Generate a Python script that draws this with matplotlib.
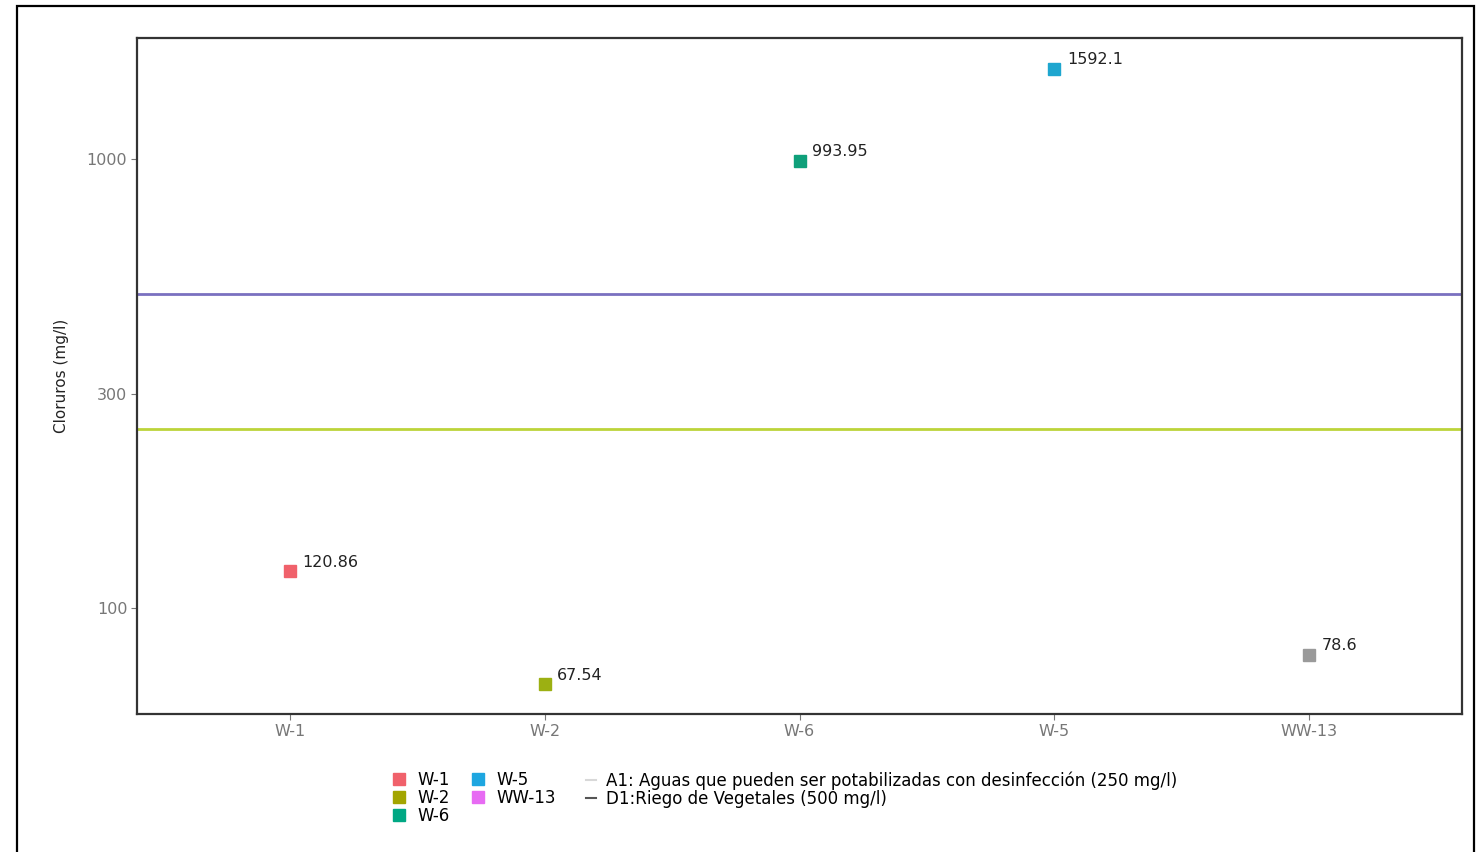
import matplotlib.pyplot as plt
from matplotlib.lines import Line2D
from matplotlib.patches import Rectangle
from matplotlib.ticker import FixedLocator, NullLocator

plt.rcParams['font.family'] = ['DejaVu Sans']

# data
sitios = ['W-1', 'W-2', 'W-6', 'W-5', 'WW-13']
cloruros = [120.86, 67.54, 993.95, 1592.1, 78.6]
etiquetas = ['120.86', '67.54', '993.95', '1592.1', '78.6']
colores_puntos = ['#f0616b', '#9cb012', '#0fa07a', '#1ea6cf', '#9a9a9a']
colores_leyenda = ['#f0616b', '#a3a500', '#00a884', '#1ea6e0', '#e76bf3']
limite_a1 = 250
limite_d1 = 500
y_ticks = [100, 300, 1000]

fig = plt.figure(figsize=(14.76, 8.52), dpi=100)
ax = fig.add_axes([137 / 1476, 1 - 714 / 852, (1462 - 137) / 1476, (714 - 38) / 852])

# outer frame
fig.patches.append(Rectangle((17 / 1476, -0.05), (1474 - 17) / 1476, 1.05 - 6 / 852,
                             transform=fig.transFigure, fill=False, edgecolor='black',
                             linewidth=1.6, zorder=0))

ax.axhline(limite_d1, color='#7a70c0', linewidth=2.0, zorder=1)
ax.axhline(limite_a1, color='#bcd43a', linewidth=2.0, zorder=1)

xs = list(range(len(sitios)))
for x, y, c, lab in zip(xs, cloruros, colores_puntos, etiquetas):
    ax.plot(x, y, marker='s', markersize=9, color=c, linestyle='none', zorder=3)
    ax.annotate(lab, (x, y), xytext=(9, 1), textcoords='offset points',
                fontsize=11.5, color='#222222', va='bottom', ha='left')

ax.set_yscale('log')
ax.set_ylim(58.0, 1865)
ax.set_xlim(-0.6, len(sitios) - 0.4)
ax.yaxis.set_major_locator(FixedLocator(y_ticks))
ax.yaxis.set_minor_locator(NullLocator())
ax.set_yticklabels([str(t) for t in y_ticks])
ax.set_xticks(xs)
ax.set_xticklabels(sitios)
ax.tick_params(axis='both', labelsize=11.5, labelcolor='#777777', color='#777777',
               length=4, width=0.8, pad=3)
ax.set_ylabel('Cloruros (mg/l)', fontsize=11, labelpad=13, color='#222222')

for sp in ax.spines.values():
    sp.set_color('#333333')
    sp.set_linewidth(1.6)

# legends
handles_pts = [Line2D([], [], marker='s', markersize=9, color=c, linestyle='none')
               for c in colores_leyenda]
fig.legend(handles_pts, sitios, ncol=2, frameon=False, fontsize=12,
           loc='upper left', bbox_to_anchor=(382 / 1476, 1 - 763 / 852),
           handlelength=1.0, handletextpad=0.6, columnspacing=1.2,
           labelspacing=0.0, borderpad=0)
handles_ln = [Line2D([], [], color='#d8d8d8', linewidth=1.5),
              Line2D([], [], color='#555555', linewidth=1.5)]
nombres_ln = ['A1: Aguas que pueden ser potabilizadas con desinfección (250 mg/l)',
              'D1:Riego de Vegetales (500 mg/l)']
fig.legend(handles_ln, nombres_ln, frameon=False, fontsize=12,
           loc='upper left', bbox_to_anchor=(578 / 1476, 1 - 763 / 852),
           handlelength=0.6, handletextpad=0.6, labelspacing=0.0, borderpad=0)

fig.savefig('out.png', dpi=100)
